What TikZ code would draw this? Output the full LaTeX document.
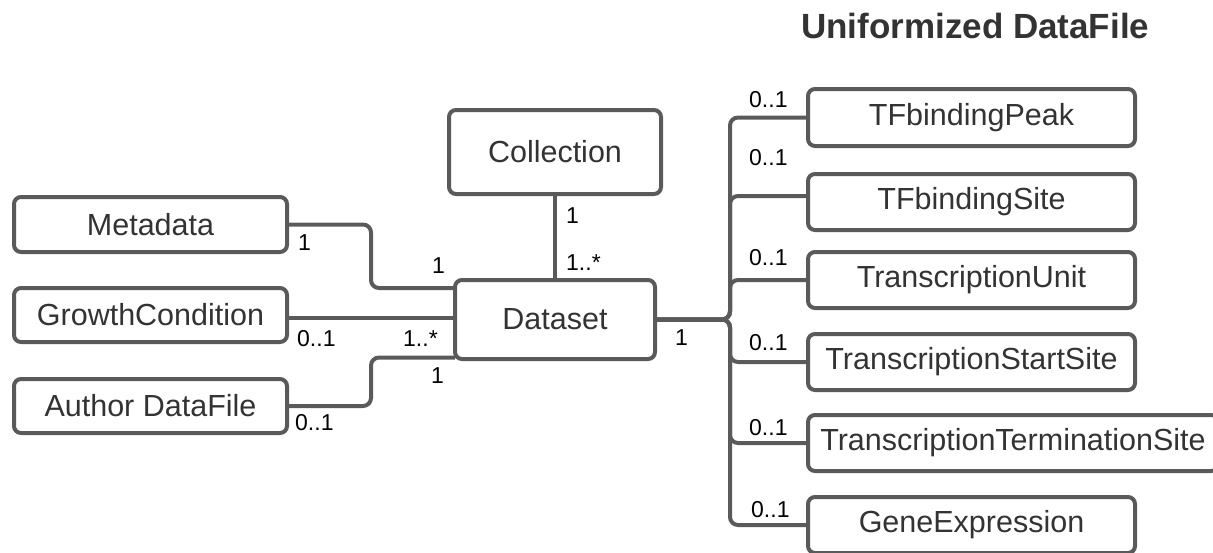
\documentclass[tikz,border=0pt]{standalone}
\usepackage{fontspec}
\setmainfont{Liberation Sans}
\definecolor{linegray}{HTML}{5A5A5A}
\definecolor{textgray}{HTML}{333333}
\begin{document}
\begin{tikzpicture}[x=1pt,y=-1pt,
  box/.style={draw=linegray, line width=4pt, rounded corners=7pt, fill=white,
    inner sep=0pt, outer sep=0pt, font=\fontsize{30.5}{36}\selectfont, text=textgray},
  conn/.style={draw=linegray, line width=4pt, rounded corners=8pt},
  mult/.style={anchor=base west, inner sep=0pt, font=\fontsize{23}{27}\selectfont, text=black},
  title/.style={anchor=base west, inner sep=0pt, font=\fontsize{35}{40}\selectfont\bfseries, text=textgray}]
\useasboundingbox (0,0) rectangle (1213,552);

% title
\node[title] (ttl) at (801,38) {Uniformized DataFile};

% left boxes
\node[box, minimum width=273pt, minimum height=55pt] (meta) at (150.5,224.5) {Metadata};
\node[box, minimum width=273pt, minimum height=54pt] (gc) at (150.5,315) {GrowthCondition};
\node[box, minimum width=273pt, minimum height=54pt] (adf) at (150.5,406) {Author DataFile};

% centre
\node[box, minimum width=212pt, minimum height=84pt] (col) at (555,152) {Collection};
\node[box, minimum width=200pt, minimum height=79pt] (ds) at (555,319.5) {Dataset};

% right boxes
\node[box, minimum width=327pt, minimum height=57pt] (tfp) at (971.5,117.5) {TFbindingPeak};
\node[box, minimum width=327pt, minimum height=56pt] (tfs) at (971.5,202) {TFbindingSite};
\node[box, minimum width=327pt, minimum height=56pt] (tu) at (971.5,280) {TranscriptionUnit};
\node[box, minimum width=327pt, minimum height=56pt] (tss) at (971.5,362) {TranscriptionStartSite};
\node[box, minimum width=410pt, minimum height=56pt] (tts) at (1013,443) {TranscriptionTerminationSite};
\node[box, minimum width=327pt, minimum height=56pt] (ge) at (971.5,525) {GeneExpression};

% connectors, left
\draw[conn] (meta.east) -- (371,224.5) -- (371,288) -- ([yshift=31.5pt]ds.west);
\draw[conn] ([yshift=-3pt]gc.east) -- ([yshift=-3pt]gc.east -| ds.west);
\draw[conn] (adf.east) -- (371,406) -- (371,357.5) -- ([yshift=-38pt]ds.west);
\draw[conn] (col.south) -- (ds.north);

% connectors, right
\foreach \t in {tfp,tu,tss,tts,ge}{
  \draw[conn] (ds.east) -- ++(75,0) |- (\t.west);
}
\draw[conn] (ds.east) -- ++(75,0) |- ([yshift=6pt]tfs.west);

% multiplicities, left
\node[mult] (m1) at (298,250) {1};
\node[mult] (m2) at (432,273) {1};
\node[mult] (m3) at (297,346) {0..1};
\node[mult] (m4) at (403,346) {1..*};
\node[mult] (m5) at (431,383) {1};
\node[mult] (m6) at (295,430) {0..1};
% centre
\node[mult] (m7) at (566,223) {1};
\node[mult] (m8) at (566,270) {1..*};
\node[mult] (m9) at (675,345) {1};
% right
\node[mult] (r1) at (749,107) {0..1};
\node[mult] (r2) at (749,165) {0..1};
\node[mult] (r3) at (749,265) {0..1};
\node[mult] (r4) at (749,350) {0..1};
\node[mult] (r5) at (749,435) {0..1};
\node[mult] (r6) at (751,517) {0..1};
\end{tikzpicture}
\end{document}
